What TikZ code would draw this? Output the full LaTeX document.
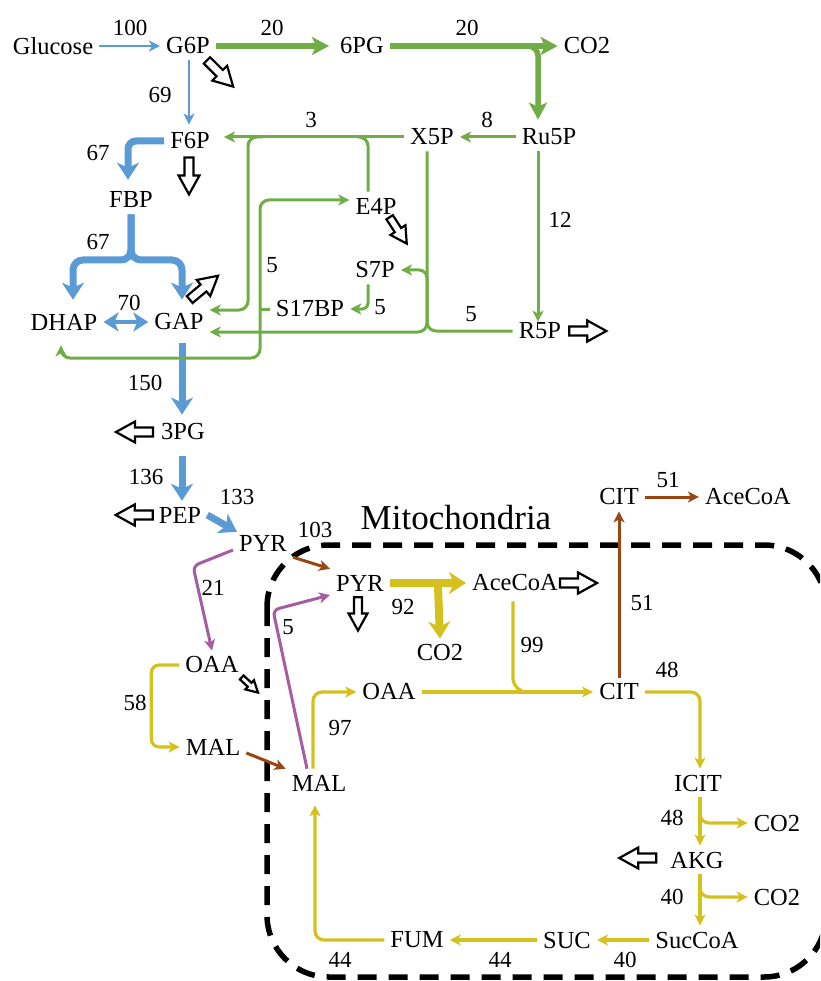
\documentclass[tikz,border=0pt]{standalone}
\usepackage{fontspec}
\setmainfont{Liberation Serif}
\usetikzlibrary{arrows.meta, calc}
\definecolor{glyc}{RGB}{91,155,213}
\definecolor{ppp}{RGB}{112,173,71}
\definecolor{tca}{RGB}{212,193,30}
\definecolor{shut}{RGB}{152,70,18}
\definecolor{anap}{RGB}{166,92,162}
\tikzset{
  met/.style={inner sep=6pt, font=\fontsize{24.5}{28}\selectfont},
  val/.style={inner sep=0pt, font=\fontsize{23}{26}\selectfont},
  tipsm/.style={-{Stealth[length=11pt, width=11pt, inset=3pt]}},
  tipbg/.style={-{Stealth[length=17pt, width=22pt, inset=5pt]}},
  bflow/.style={glyc, line width=2.8pt, tipsm},
  bbig/.style={glyc, line width=7pt, tipbg},
  bboth/.style={glyc, line width=4.5pt, {Stealth[length=15pt, width=19pt, inset=4pt]}-{Stealth[length=15pt, width=19pt, inset=4pt]}},
  gflow/.style={ppp, line width=3pt, tipsm},
  gboth/.style={ppp, line width=3pt, {Stealth[length=11pt, width=11pt, inset=3pt]}-{Stealth[length=11pt, width=11pt, inset=3pt]}},
  gseg/.style={ppp, line width=3pt},
  gbig/.style={ppp, line width=5.5pt, -{Stealth[length=17pt, width=18pt, inset=4pt]}},
  yflow/.style={tca, line width=3.2pt, tipsm},
  yseg/.style={tca, line width=3.2pt},
  ybig/.style={tca, line width=8pt, tipbg},
  rflow/.style={shut, line width=3pt, tipsm},
  pflow/.style={anap, line width=3pt, tipsm},
  expo/.pic={\draw[line width=2.2pt, fill=white, line join=miter]
    (0,-4.5) -- (18,-4.5) -- (18,-10.5) -- (37,0) -- (18,10.5) -- (18,4.5) -- (0,4.5) -- cycle;},
}

\begin{document}
\begin{tikzpicture}[x=1pt, y=-1pt]
  \useasboundingbox (0,0) rectangle (820,981);
  % mitochondrial membrane
  \begin{scope}
    \clip (0,0) rectangle (820,981);
    \draw[line width=5.5pt, dash pattern=on 19pt off 12pt, rounded corners=62pt] (267,545) rectangle (826,977);
  \end{scope}

  % metabolites
  \node[met] (glc) at (53,46) {Glucose};
  \node[met] (g6p) at (188,46) {G6P};
  \node[met] (pg6) at (362,46) {6PG};
  \node[met] (co2a) at (587,46) {CO2};
  \node[met] (ru5p) at (549,137) {Ru5P};
  \node[met] (x5p) at (432,137) {X5P};
  \node[met] (f6p) at (190,141) {F6P};
  \node[met] (fbp) at (131,200) {FBP};
  \node[met] (e4p) at (376,206) {E4P};
  \node[met] (s7p) at (375,270) {S7P};
  \node[met] (s17bp) at (310,309) {S17BP};
  \node[met] (dhap) at (64,322) {DHAP};
  \node[met] (gap) at (179,322) {GAP};
  \node[met] (r5p) at (540,331) {R5P};
  \node[met] (pg3) at (183,432) {3PG};
  \node[met] (pep) at (180,515) {PEP};
  \node[met] (pyr) at (263,543) {PYR};
  \node[met] (cit) at (619,497) {CIT};
  \node[met] (acc) at (748,497) {AceCoA};
  \node[met, font=\fontsize{35}{40}\selectfont] (mito) at (456,518) {Mitochondria};
  \node[met] (pyrm) at (360,583) {PYR};
  \node[met] (accm) at (515,583) {AceCoA};
  \node[met] (co2b) at (440,653) {CO2};
  \node[met] (oaa) at (212,665) {OAA};
  \node[met] (mal) at (213,747) {MAL};
  \node[met] (oaam) at (389,692) {OAA};
  \node[met] (citm) at (619,692) {CIT};
  \node[met] (malm) at (319,783) {MAL};
  \node[met] (icit) at (698,783) {ICIT};
  \node[met] (co2c) at (777,823) {CO2};
  \node[met] (akg) at (697,860) {AKG};
  \node[met] (co2d) at (777,897) {CO2};
  \node[met] (succoa) at (697,940) {SucCoA};
  \node[met] (suc) at (567,940) {SUC};
  \node[met] (fum) at (417,940) {FUM};

  % fluxes
  \node[val] (vhk) at (130,28) {100};
  \node[val] (vzwf) at (272,28) {20};
  \node[val] (vgnd) at (467,28) {20};
  \node[val] (vpgi) at (160,95) {69};
  \node[val] (vtk3) at (311,120) {3};
  \node[val] (vrpe) at (487,120) {8};
  \node[val] (vpfk) at (98,153) {67};
  \node[val] (vrpi) at (560,220) {12};
  \node[val] (vald) at (98,242) {67};
  \node[val] (vtal) at (272,265) {5};
  \node[val] (vtpi) at (129,303) {70};
  \node[val] (vsbp) at (380,307) {5};
  \node[val] (vtk5) at (471,314) {5};
  \node[val] (vgapdh) at (145,383) {150};
  \node[val] (veno) at (146,477) {136};
  \node[val] (vacl) at (668,480) {51};
  \node[val] (vpyk) at (237,497) {133};
  \node[val] (vmpc) at (315,530) {103};
  \node[val] (vpc) at (213,588) {21};
  \node[val] (vcit) at (642,603) {51};
  \node[val] (vpdh) at (403,607) {92};
  \node[val] (vme) at (288,627) {5};
  \node[val] (vcs) at (532,645) {99};
  \node[val] (vaco) at (667,670) {48};
  \node[val] (vmdh) at (135,703) {58};
  \node[val] (vmdhm) at (340,728) {97};
  \node[val] (vidh) at (672,818) {48};
  \node[val] (vogdh) at (672,897) {40};
  \node[val] (vfum) at (340,960) {44};
  \node[val] (vsdh) at (500,960) {44};
  \node[val] (vscs) at (625,960) {40};

  % glycolysis
  \draw[bflow] (glc) -- (g6p);
  \draw[bflow] ([xshift=1pt]g6p.south) -- ([xshift=-1pt,yshift=2pt]f6p.north);
  \draw[bbig, rounded corners=8pt] (f6p.west) -| ([xshift=-3pt,yshift=6pt]fbp.north);
  \draw[bbig, rounded corners=10pt] (fbp.south) |- (73,260) -- ([xshift=9pt,yshift=8pt]dhap.north);
  \draw[bbig, rounded corners=10pt] (fbp.south) |- (182,260) -- ([xshift=3pt,yshift=8pt]gap.north);
  \draw[bboth] (dhap) -- (gap);
  \draw[bbig] ([xshift=3pt,yshift=-7pt]gap.south) -- ([xshift=-1pt,yshift=3pt]pg3.north);
  \draw[bbig] ([xshift=-1pt,yshift=-10pt]pg3.south) -- ([xshift=2pt]pep.north);
  \draw[bbig] (pep.east) -- ([xshift=4pt,yshift=-3pt]pyr.north west);

  % pentose phosphate pathway
  \draw[gbig, shorten >=5pt] (g6p) -- (pg6);
  \draw[gbig] (pg6) -- (co2a);
  \draw[gbig, rounded corners=10pt] ($(pg6.east)!0.75!(co2a.west)$) -| ([xshift=-11pt,yshift=3pt]ru5p.north);
  \draw[gflow] (ru5p) -- (x5p);
  \draw[gflow, shorten >=-5pt] ([xshift=-11pt]ru5p.south) -- ([xshift=-11pt]ru5p.south |- r5p.north);
  \draw[gflow, shorten >=8pt] (x5p.west) -- (f6p.east |- x5p.west);
  \draw[gflow, rounded corners=9pt] ($(x5p.west)!0.75!(f6p.east |- x5p.west)$) -| (248,250) |- ([yshift=12pt]gap.east);
  \draw[gseg, rounded corners=9pt] ([xshift=-8pt]e4p.north) |- ($(x5p.west)!0.25!(f6p.east |- x5p.west)$);
  \draw[gboth, rounded corners=9pt] ([yshift=6pt]e4p.west) -| (260,358) -| ([xshift=-3pt,yshift=-9pt]dhap.south);
  \draw[gseg] (s17bp.west) -- ++(-10,0);
  \draw[gflow, rounded corners=6pt] ([xshift=-7pt]s7p.south) |- (s17bp.east);
  \draw[gflow, rounded corners=9pt] ([xshift=-5pt]x5p.south) |- ([yshift=-10pt]gap.east);
  \draw[gseg, rounded corners=9pt] (r5p.west) -| (427,300);
  \draw[gflow, rounded corners=8pt] (427,300) |- (s7p.east);

  % shuttles and TCA cycle
  \draw[pflow, rounded corners=6pt] ([yshift=-7pt]pyr.west) -- (193,566) -- (oaa.north);
  \draw[rflow] (pyr.south east) -- (pyrm.north west);
  \draw[pflow, rounded corners=6pt] ([xshift=-12pt]malm.north) -- (273,610) -- ([yshift=-12pt]pyrm.west);
  \draw[ybig] (pyrm) -- (accm);
  \draw[ybig] ($(pyrm.east)!0.63!(accm.west)$) -- (co2b.north);
  \draw[yseg, rounded corners=14pt] ([xshift=-2pt,yshift=-4pt]accm.south) |- ($(oaam.east)!0.75!(citm.west)$);
  \draw[yflow] (oaam) -- (citm);
  \draw[yflow, rounded corners=9pt] (citm.east) -| ([xshift=2pt]icit.north);
  \draw[yflow] ([xshift=2pt]icit.south) -- ([xshift=3pt]akg.north);
  \draw[yflow, rounded corners=9pt] ($([xshift=2pt]icit.south)!0.3!([xshift=3pt]akg.north)$) |- (co2c.west);
  \draw[yflow] ([xshift=3pt]akg.south) -- ([xshift=3pt]succoa.north);
  \draw[yflow, rounded corners=9pt] ($([xshift=3pt]akg.south)!0.3!([xshift=3pt]succoa.north)$) |- (co2d.west);
  \draw[yflow] (succoa) -- (suc);
  \draw[yflow] (suc) -- (fum);
  \draw[yflow, rounded corners=9pt] (fum.west) -| ([xshift=-4pt,yshift=-8pt]malm.south);
  \draw[yflow, rounded corners=9pt] ([xshift=-6pt]malm.north) |- (oaam.west);
  \draw[yflow, rounded corners=8pt] (oaa.west) -- ++(-28,0) |- (mal.west);
  \draw[rflow] ([yshift=-6pt]mal.east) -- (malm.north west);
  \draw[rflow] (citm) -- (cit);
  \draw[rflow] (cit) -- (acc);

  % outflows
  \pic[rotate=-45] at ([xshift=-9pt]g6p.south east) {expo};
  \pic[rotate=-90] at ([xshift=-1pt,yshift=-2pt]f6p.south) {expo};
  \pic[rotate=40] at ([shift={(-20pt,8pt)}]gap.north east) {expo};
  \pic[rotate=-57, scale=0.85] at ([shift={(-13pt,3pt)}]e4p.south east) {expo};
  \pic at ([xshift=2pt]r5p.east) {expo};
  \pic[rotate=180] at ([xshift=-2pt]pg3.west) {expo};
  \pic[rotate=180] at (pep.west) {expo};
  \pic[rotate=-90, scale=0.9] at ([xshift=-2pt]pyrm.south) {expo};
  \pic at ([xshift=-4pt]accm.east) {expo};
  \pic[rotate=-43, scale=0.6] at ([shift={(-3pt,2pt)}]oaa.south east) {expo};
  \pic[rotate=180] at ([shift={(-8pt,2pt)}]akg.west) {expo};
\end{tikzpicture}
\end{document}
